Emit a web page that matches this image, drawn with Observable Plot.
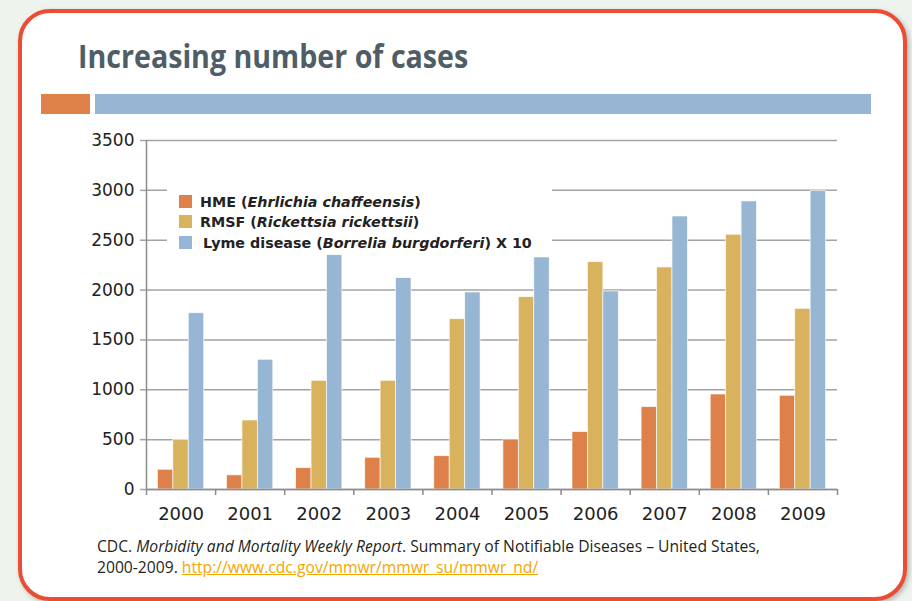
<!DOCTYPE html>
<html>
<head>
<meta charset="utf-8">
<script src="https://cdn.jsdelivr.net/npm/d3@7"></script>
<script src="https://cdn.jsdelivr.net/npm/@observablehq/plot@0.6"></script>
<style>
  html, body { margin: 0; padding: 0; }
  body { width: 912px; height: 601px; overflow: hidden; background: #eef3ee; position: relative; font-family: "DejaVu Sans", sans-serif; }
  .card { position: absolute; left: 18px; top: 9px; width: 889px; height: 592px; box-sizing: border-box;
          border: 4.5px solid #ec4c31; border-radius: 32px; background: #fff; box-shadow: 2px 2px 5px rgba(0,0,0,0.25); }
  .title { position: absolute; left: 78px; top: 33px; font-family: "Open Sans", sans-serif;
           font-weight: 700; font-size: 33px; color: #4f5e66; white-space: nowrap;
           transform: scaleX(0.867); transform-origin: left top; }
  .hdr { position: absolute; top: 94px; height: 20px; }
  #chart { position: absolute; left: 0; top: 120px; }
  .legend { position: absolute; left: 167px; top: 186px; width: 385px; height: 66px; background: #fff;
            font-family: "DejaVu Sans", Verdana, sans-serif; font-weight: 700; font-size: 14.3px; color: #222; }
  .legend .row { position: absolute; left: 12px; white-space: nowrap; line-height: 17px; }
  .legend .sw { display: inline-block; width: 13px; height: 13px; vertical-align: -1px; margin-right: 8px; }
  .cap { position: absolute; left: 97px; font-family: "Open Sans", sans-serif;
         font-size: 15.5px; line-height: 17px; color: #231f20; white-space: nowrap;
         transform: scaleX(1.01); transform-origin: left top; }
  .cap a { color: #f2a600; text-decoration: underline; }
</style>
</head>
<body>
<div class="card"></div>
<div class="title">Increasing number of cases</div>
<div class="hdr" style="left:41px;width:49px;background:#df8249"></div>
<div class="hdr" style="left:95px;width:776px;background:#95b5d2"></div>
<div id="chart"></div>
<div class="legend" id="legend"></div>
<div class="cap" style="top:538px">CDC. <i>Morbidity and Mortality Weekly Report</i>. Summary of Notifiable Diseases – United States,</div>
<div class="cap" style="top:559px">2000-2009. <a>http://www.cdc.gov/mmwr/mmwr_su/mmwr_nd/</a></div>
<script>
const years = [2000, 2001, 2002, 2003, 2004, 2005, 2006, 2007, 2008, 2009];
const seriesNames = ["HME", "RMSF", "Lyme"];
const hme  = [198, 142, 214, 318, 334, 501, 577, 826, 953, 940];
const rmsf = [498, 692, 1090, 1090, 1708, 1929, 2280, 2227, 2555, 1812];
const lyme = [1768, 1301, 2350, 2120, 1976, 2327, 1986, 2738, 2889, 2992];
const colors = ["#de8049", "#d9b25d", "#96b6d4"];
const yTicks = [0, 500, 1000, 1500, 2000, 2500, 3000, 3500];
const legendLabels = [
  "HME (<i>Ehrlichia chaffeensis</i>)",
  "RMSF (<i>Rickettsia rickettsii</i>)",
  "Lyme disease (<i>Borrelia burgdorferi</i>) X 10"
];

const values = [hme, rmsf, lyme];
const groupFrac = 0.67;
const barFrac = groupFrac / seriesNames.length;
const rows = [];
seriesNames.forEach((s, j) => {
  years.forEach((yr, i) => {
    const x1 = yr - groupFrac / 2 + j * barFrac;
    rows.push({year: yr, series: s, value: values[j][i], x1, x2: x1 + barFrac});
  });
});
const xDomain = [years[0] - 0.5, years[years.length - 1] + 0.5];
const boundaries = [xDomain[0], ...years.map(y => y + 0.5)];

const plot = Plot.plot({
  width: 912,
  height: 410,
  marginLeft: 146,
  marginRight: 75,
  marginTop: 20,
  marginBottom: 41,
  style: {fontFamily: "DejaVu Sans, sans-serif", color: "#222", background: "transparent"},
  x: {type: "linear", domain: xDomain, label: null},
  y: {domain: [0, 3500], label: null},
  color: {domain: seriesNames, range: colors},
  marks: [
    Plot.gridY(yTicks, {stroke: "#a3a3a3", strokeOpacity: 1, strokeWidth: 1.5}),
    Plot.rectY(rows, {x1: "x1", x2: "x2", y: "value", fill: "series", stroke: "#fff", strokeWidth: 0.8, strokeOpacity: 0.8}),
    Plot.ruleX([xDomain[0]], {stroke: "#8c8c8c", strokeWidth: 1.5}),
    Plot.ruleY([0], {stroke: "#8c8c8c", strokeWidth: 1.5}),
    Plot.axisY({ticks: yTicks, tickSize: 6, tickPadding: 6, fontSize: 17, stroke: "#a3a3a3", strokeWidth: 1.5, tickFormat: d => String(d), label: null}),
    Plot.axisX({ticks: boundaries, tickSize: 6, stroke: "#8c8c8c", strokeWidth: 1.5, tickFormat: () => "", label: null}),
    Plot.axisX({ticks: years, tickSize: 0, tickPadding: 18, fontSize: 18, tickFormat: d => String(d), label: null})
  ]
});
document.getElementById("chart").appendChild(plot);

const legend = document.getElementById("legend");
const rowTops = [8, 28, 49];
legendLabels.forEach((lab, i) => {
  const r = document.createElement("div");
  r.className = "row";
  r.style.top = rowTops[i] + "px";
  r.innerHTML = `<span class="sw" style="background:${colors[i]}"></span>` + (i === 2 ? "<span style='margin-left:3px'></span>" : "") + lab;
  legend.appendChild(r);
});
</script>
</body>
</html>
